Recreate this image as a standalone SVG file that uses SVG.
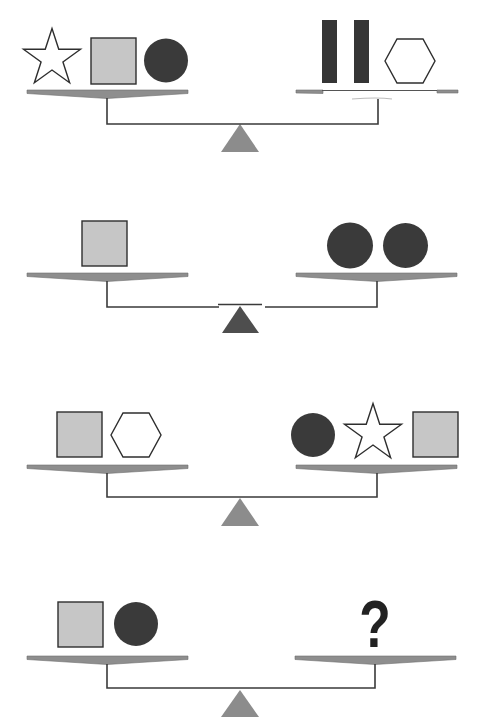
<svg xmlns="http://www.w3.org/2000/svg" width="481" height="721" viewBox="0 0 481 721">
<style>
.pan{fill:#8e8e8e;stroke:#6e6e6e;stroke-width:0.6}
.beam{fill:none;stroke:#3a3a3a;stroke-width:1.6}
.sq{fill:#c6c6c6;stroke:#2e2e2e;stroke-width:1.4}
.ci{fill:#3a3a3a}
.hex{fill:#fff;stroke:#2e2e2e;stroke-width:1.4}
.star{fill:#fff;stroke:#2e2e2e;stroke-width:1.4;stroke-linejoin:miter}
.bar{fill:#353535}
.tri{fill:#8c8c8c}
.q{font-family:"Liberation Sans",Arial,sans-serif;font-size:66px;font-weight:bold;fill:#222}
</style>
<defs>
<polygon id="starShape" points="0,-30 6.76,-9.3 28.53,-9.27 10.94,3.55 17.63,24.27 0,11.5 -17.63,24.27 -10.94,3.55 -28.53,-9.27 -6.76,-9.3"/>
<polygon id="hexShape" points="-25,0 -13,-22 13,-22 25,0 13,22 -13,22"/>
<path id="panL" d="M27,0 L188,0 L188,3.5 L107,8.5 L27,3.5 Z"/>
<path id="panR" d="M296,0 L457,0 L457,3.5 L377,8.5 L296,3.5 Z"/>
</defs>

<!-- Scale 1 -->
<g id="scale1">
<g id="s1-pan-left"><use href="#panL" class="pan" y="90"/></g>
<g id="s1-pan-right">
<path class="pan" d="M296,90 L323,90 L323,93.5 L296,93 Z"/>
<path class="pan" d="M437,90 L458,90 L458,93 L437,93 Z"/>
<line x1="322" y1="90.5" x2="437" y2="90.5" stroke="#555" stroke-width="1"/>
<path d="M352,99 Q378,97 392,99" fill="none" stroke="#bbb" stroke-width="1.2"/>
</g>
<g id="s1-star"><use href="#starShape" class="star" x="52" y="58.5"/></g>
<g id="s1-square"><rect class="sq" x="91" y="38" width="45" height="46"/></g>
<g id="s1-circle"><circle class="ci" cx="166" cy="60.5" r="22"/></g>
<g id="s1-bar1"><rect class="bar" x="322" y="20" width="15" height="63"/></g>
<g id="s1-bar2"><rect class="bar" x="354" y="20" width="15" height="63"/></g>
<g id="s1-hex"><use href="#hexShape" class="hex" x="410" y="61"/></g>
<g id="s1-fulcrum"><polygon class="tri" points="240,124 259,152 221,152"/></g>
</g>

<!-- Scale 2 -->
<g id="scale2">
<g id="s2-pan-left"><use href="#panL" class="pan" y="273"/></g>
<g id="s2-pan-right"><use href="#panR" class="pan" y="273"/></g>
<g id="s2-square"><rect class="sq" x="82" y="221" width="45" height="45"/></g>
<g id="s2-circle1"><circle class="ci" cx="350" cy="245.5" r="23"/></g>
<g id="s2-circle2"><circle class="ci" cx="405.5" cy="245.5" r="22.5"/></g>
<g id="s2-fulcrum"><polygon points="240,306 259,333 222,333" fill="#4e4e4e"/></g>
</g>

<!-- Scale 3 -->
<g id="scale3">
<g id="s3-pan-left"><use href="#panL" class="pan" y="465"/></g>
<g id="s3-pan-right"><use href="#panR" class="pan" y="465"/></g>
<g id="s3-square-left"><rect class="sq" x="57" y="412" width="45" height="45"/></g>
<g id="s3-hex"><use href="#hexShape" class="hex" x="136" y="435"/></g>
<g id="s3-circle"><circle class="ci" cx="313" cy="435" r="22"/></g>
<g id="s3-star"><use href="#starShape" class="star" x="373" y="433.5"/></g>
<g id="s3-square-right"><rect class="sq" x="413" y="412" width="45" height="45"/></g>
<g id="s3-fulcrum"><polygon class="tri" points="240,498 259,526 221,526"/></g>
</g>

<!-- Scale 4 -->
<g id="scale4">
<g id="s4-pan-left"><use href="#panL" class="pan" y="656"/></g>
<g id="s4-pan-right"><path class="pan" d="M295,656 L456,656 L456,659.5 L375,664.5 L295,659.5 Z"/></g>
<g id="s4-square"><rect class="sq" x="58" y="602" width="45" height="45"/></g>
<g id="s4-circle"><circle class="ci" cx="136" cy="624" r="22"/></g>
<g id="s4-question"><text class="q" x="375" y="647" text-anchor="middle" transform="translate(375 0) scale(0.78 1) translate(-375 0)">?</text></g>
<g id="s4-fulcrum"><polygon class="tri" points="240,690 259,717 221,717"/></g>
</g>

<!-- Connectors: posts and beams -->
<g id="connectors">
<path class="beam" d="M107,98 L107,124 L378,124 L378,99"/>
<path class="beam" d="M107,281 L107,307 L219,307"/>
<path class="beam" d="M218,304.5 L262,304.5" stroke-width="1.2"/>
<path class="beam" d="M265,307 L377,307 L377,281"/>
<path class="beam" d="M107,473 L107,497 L377,497 L377,473"/>
<path class="beam" d="M107,664 L107,688 L375,688 L375,664"/>
</g>
</svg>
